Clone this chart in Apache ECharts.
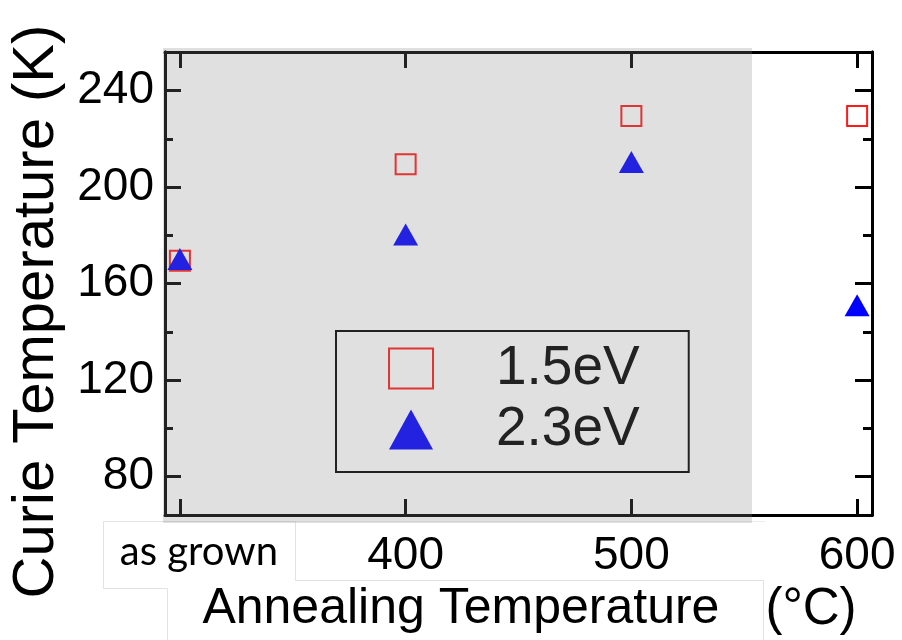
<!DOCTYPE html>
<html>
<head>
<meta charset="utf-8">
<script src="https://cdn.jsdelivr.net/npm/echarts@6/dist/echarts.min.js"></script>
<style>html,body{margin:0;padding:0;background:#fff}#c{width:902px;height:640px}</style>
</head>
<body>
<div id="c"></div>
<script>
// ---- data ----
const xValues = [300, 400, 500, 600];
const xTickLabels = ['as grown', '400', '500', '600'];
const yMajorTicks = [80, 120, 160, 200, 240];
const yMinorTicks = [100, 140, 180, 220];
const seriesNames = ['1.5eV', '2.3eV'];
const tc15 = [169.5, 209.5, 229.5, 229.5];
const tc23 = [170.2, 180.3, 210.4, 151];

const FONT = '"Liberation Sans", Arial, sans-serif';

function yAx(pos, ticks, len, showLabel, name) {
  const ax = {
    type: 'value', position: pos, min: 64, max: 256,
    axisLine: { show: true, lineStyle: { color: '#000', width: 3 } },
    axisTick: { show: true, inside: true, length: len, customValues: ticks, lineStyle: { color: '#000', width: 3 } },
    axisLabel: { show: showLabel, customValues: ticks, margin: 11, fontFamily: FONT, fontSize: 46, color: '#000' },
    splitLine: { show: false }
  };
  if (name) {
    ax.name = name;
    ax.nameLocation = 'middle';
    ax.nameRotate = 90;
    ax.nameGap = 98;
    ax.nameTextStyle = { fontFamily: FONT, fontSize: 58, color: '#000', padding: [0, 56, 0, 0] };
  }
  return ax;
}

function xAx(pos, showLabel, name) {
  const ax = {
    type: 'value', position: pos, min: 293.4, max: 606.6,
    axisLine: { show: true, lineStyle: { color: '#000', width: 3 } },
    axisTick: { show: true, inside: true, length: 16, customValues: xValues, lineStyle: { color: '#000', width: 3 } },
    axisLabel: {
      show: showLabel, customValues: xValues, margin: 17,
      formatter: function (v) {
        const i = xValues.indexOf(v);
        const t = i >= 0 ? xTickLabels[i] : String(v);
        return i === 0 ? '{g|' + t + '}' : '{n|' + t + '}';
      },
      rich: {
        g: { fontFamily: 'Lato, "Open Sans", sans-serif', fontSize: 40, lineHeight: 40, color: '#000', padding: [0, 0, 0, 38] },
        n: { fontFamily: FONT, fontSize: 46, lineHeight: 48, color: '#000' }
      }
    },
    splitLine: { show: false }
  };
  if (name) {
    ax.name = name;
    ax.nameLocation = 'middle';
    ax.nameGap = 66;
    ax.nameTextStyle = {
      rich: {
        a: { fontFamily: FONT, fontSize: 50, lineHeight: 50, color: '#000', padding: [0, 0, 0, 22] },
        b: { fontFamily: FONT, fontSize: 51, lineHeight: 50, color: '#000', padding: [0, 0, 0, 46] }
      }
    };
  }
  return ax;
}

const chart = echarts.init(document.getElementById('c'), null, { renderer: 'canvas' });
chart.setOption({
  backgroundColor: '#fff',
  animation: false,
  grid: { left: 165, right: 30, top: 52, bottom: 121, containLabel: false },
  xAxis: [
    xAx('bottom', true, '{a|Annealing Temperature}{b|(°C)}'),
    xAx('top', false, null)
  ],
  yAxis: [
    yAx('left', yMajorTicks, 16, true, 'Curie Temperature (K)'),
    yAx('left', yMinorTicks, 8, false, null),
    yAx('right', yMajorTicks, 17, false, null),
    yAx('right', yMinorTicks, 9, false, null)
  ],
  legend: {
    orient: 'vertical', left: 336, top: 331,
    padding: [10, 49, 15, 52], itemGap: 6,
    itemWidth: 44, itemHeight: 40,
    borderColor: '#000', borderWidth: 2,
    textStyle: { fontFamily: FONT, fontSize: 55, lineHeight: 55, color: '#000', padding: [0, 0, 0, 58] },
    data: seriesNames
  },
  series: [
    {
      name: seriesNames[0], type: 'scatter', xAxisIndex: 0, yAxisIndex: 0,
      symbol: 'rect', symbolSize: 20,
      itemStyle: { color: 'rgba(255,255,255,0)', borderColor: '#ff1a1a', borderWidth: 2, opacity: 1 },
      data: xValues.map((x, i) => [x, tc15[i]])
    },
    {
      name: seriesNames[1], type: 'scatter', xAxisIndex: 0, yAxisIndex: 0,
      symbol: 'triangle', symbolSize: [25, 22],
      itemStyle: { color: '#0000ff', opacity: 1 },
      data: xValues.map((x, i) => [x, tc23[i]])
    }
  ],
  graphic: [
    { type: 'rect', z: 100, silent: true, shape: { x: 163, y: 48, width: 589, height: 475 }, style: { fill: 'rgba(133,133,133,0.255)' } },
    { type: 'polyline', z: 1, silent: true, shape: { points: [[167.5, 640], [167.5, 588.5], [103.5, 588.5], [103.5, 521.5], [295.5, 521.5], [295.5, 580.5], [763.5, 580.5], [763.5, 640]] }, style: { stroke: '#e2e2e2', lineWidth: 1, fill: null } },
    { type: 'line', z: 1, silent: true, shape: { x1: 295.5, y1: 521.5, x2: 765, y2: 521.5 }, style: { stroke: '#ececec', lineWidth: 1 } }
  ]
});
</script>
</body>
</html>
